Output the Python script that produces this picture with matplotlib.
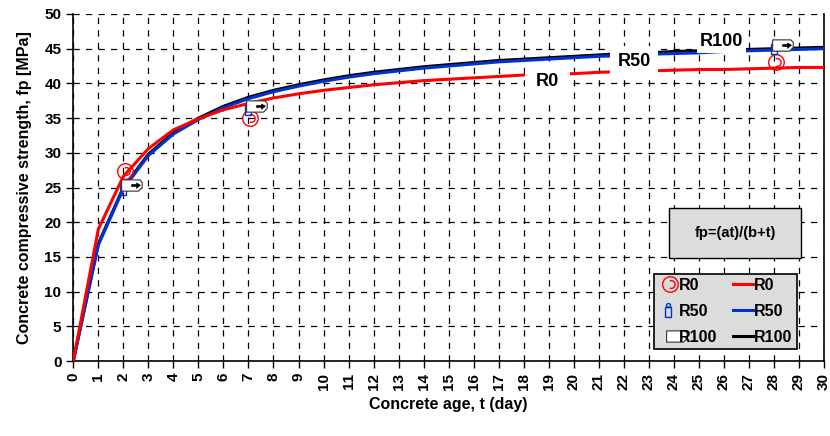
import numpy as np
import matplotlib.pyplot as plt
from matplotlib.path import Path
from matplotlib.lines import Line2D
from matplotlib.patches import Rectangle
from matplotlib.transforms import Affine2D

plt.rcParams['font.family'] = ['Liberation Sans Narrow', 'Liberation Sans', 'DejaVu Sans']
plt.rcParams['font.weight'] = 'bold'

# strength development curves, fp [MPa] at each day
days = list(range(0, 31))
r0 = [0, 19.0, 26.6, 30.6, 33.3, 34.9, 36.2, 37.1, 37.9, 38.5, 39.0, 39.4, 39.8,
      40.1, 40.4, 40.6, 40.8, 41.0, 41.2, 41.3, 41.4, 41.6, 41.7, 41.8, 41.9,
      42.0, 42.0, 42.1, 42.2, 42.3, 42.3]
r50 = [0, 16.7, 24.8, 29.6, 32.7, 34.8, 36.5, 37.8, 38.8, 39.6, 40.3, 40.9, 41.4,
       41.8, 42.2, 42.5, 42.8, 43.1, 43.3, 43.5, 43.7, 43.9, 44.0, 44.2, 44.3,
       44.4, 44.6, 44.7, 44.8, 44.9, 45.0]
r100 = [0, 16.9, 25.0, 29.8, 32.9, 35.0, 36.7, 38.0, 39.0, 39.8, 40.5, 41.1, 41.6,
        42.0, 42.4, 42.7, 43.0, 43.3, 43.5, 43.7, 43.9, 44.1, 44.3, 44.4, 44.6,
        44.7, 44.8, 44.9, 45.0, 45.1, 45.2]

# measured specimens
test_days = [2, 7, 28]
r0_test = [27.4, 35.0, 43.1]
r50_test = [25.0, 36.5, 45.2]
r100_test = [25.3, 36.7, 45.5]

names = ['R0', 'R50', 'R100']
colors = ['#FF0000', '#0033CC', '#000000']


# marker shapes
def ring_marker():
    outer = Path.unit_circle().transformed(Affine2D().translate(0.25, 0))
    inner = Path.arc(-110, 110).transformed(Affine2D().scale(0.5).translate(0.35, 0))
    return Path.make_compound_path(outer, inner)


def capsule_marker():
    body = Path([(-0.3, -0.7), (0.3, -0.7), (0.3, 0.3), (-0.3, 0.3), (-0.3, -0.7)],
                [Path.MOVETO, Path.LINETO, Path.LINETO, Path.LINETO, Path.CLOSEPOLY])
    top = Path.unit_circle().transformed(Affine2D().scale(0.2).translate(0, 0.5))
    return Path.make_compound_path(body, top)


def box_marker():
    verts = [(-0.3, -0.9), (2.4, -0.9), (3.0, -0.3), (3.0, 0.5), (2.6, 0.9),
             (-0.3, 0.9), (-0.3, -0.9)]
    codes = [Path.MOVETO] + [Path.LINETO] * 5 + [Path.CLOSEPOLY]
    return Path(verts, codes)


def flag_marker():
    verts = [(3.0, 0.0), (1.3, -0.15), (2.1, -0.15), (2.1, -0.45), (2.7, 0.05),
             (2.1, 0.4), (2.1, 0.15), (1.3, 0.15), (1.3, -0.15)]
    codes = [Path.MOVETO, Path.MOVETO] + [Path.LINETO] * 6 + [Path.CLOSEPOLY]
    return Path(verts, codes)


fig = plt.figure(figsize=(8.3, 4.36), dpi=100)
ax = fig.add_axes([0.0883, 0.172, 0.9045, 0.7959])

ax.plot(days, r100, color=colors[2], lw=2.2, zorder=3)
ax.plot(days, r50, color=colors[1], lw=2.2, zorder=3)
ax.plot(days, r0, color=colors[0], lw=2.2, zorder=3)

ax.plot(test_days, r0_test, ls='none', marker=ring_marker(), ms=14, mfc='none',
        mec=colors[0], mew=1.0, zorder=4)
ax.plot(test_days, r50_test, ls='none', marker=capsule_marker(), ms=10, mfc='none',
        mec=colors[1], mew=1.0, zorder=4)
ax.plot(test_days, r100_test, ls='none', marker=box_marker(), ms=27, mfc='white',
        mec='#333333', mew=0.8, zorder=4)
ax.plot(test_days, r100_test, ls='none', marker=flag_marker(), ms=27, mfc='black',
        mec='black', mew=0.5, zorder=4)

# curve labels
label_pos = [(18.95, 40.27, 0.6), (22.41, 43.16, 0.4), (25.89, 46.04, 0.15)]
for name, (lx, ly, pad) in zip(names, label_pos):
    ax.text(lx, ly, name, fontsize=13, fontweight='bold', ha='center', va='center',
            family='Liberation Sans', zorder=5,
            bbox=dict(boxstyle='square,pad=%s' % pad, fc='white', ec='none'))

ax.set_xlim(0, 30)
ax.set_ylim(0, 50)
ax.set_xticks(days, labels=[str(d) for d in days], rotation=90, fontsize=11,
              fontweight='bold', family='Liberation Sans')
ax.set_yticks(range(0, 51, 5), labels=[str(v) for v in range(0, 51, 5)], fontsize=11,
              fontweight='bold', family='Liberation Sans')
ax.tick_params(axis='both', direction='out', length=5, width=1)

ax.grid(True, color='black', ls=(0, (5, 5)), lw=0.9, zorder=1)
ax.set_axisbelow(True)
ax.spines['top'].set_visible(False)
for s in ['left', 'bottom', 'right']:
    ax.spines[s].set_linewidth(1.2)

ax.set_xlabel('Concrete age, t (day)', fontsize=11.5, fontweight='bold', labelpad=5)
ax.set_ylabel('Concrete compressive strength, fp [MPa]', fontsize=11.5,
              fontweight='bold', labelpad=9)

# formula box
ax.add_patch(Rectangle((0.794, 0.297), 0.175, 0.144, transform=ax.transAxes,
                       fc='#DCDCDC', ec='black', lw=1.0, zorder=5))
ax.text(0.8815, 0.369, 'fp=(at)/(b+t)', transform=ax.transAxes, fontsize=10.5,
        fontweight='bold', ha='center', va='center', zorder=6,
        family='Liberation Sans')

handles = [
    Line2D([], [], ls='none', marker=ring_marker(), ms=14, mfc='none', mec=colors[0], mew=1.0),
    Line2D([], [], ls='none', marker=capsule_marker(), ms=10, mfc='none', mec=colors[1], mew=1.0),
    Line2D([], [], ls='none', marker=box_marker(), ms=27, mfc='white', mec='#333333', mew=0.8),
    Line2D([], [], color=colors[0], lw=2.2),
    Line2D([], [], color=colors[1], lw=2.2),
    Line2D([], [], color=colors[2], lw=2.2),
]
leg = ax.legend(handles, names + names, ncol=2, loc='lower left',
                bbox_to_anchor=(0.774, 0.035), frameon=True,
                fancybox=False, framealpha=1, facecolor='#DCDCDC', edgecolor='black',
                handlelength=1.2, handletextpad=0.1, columnspacing=1.0,
                labelspacing=0.7, borderpad=0.25, borderaxespad=0,
                prop={'family': 'Liberation Sans', 'weight': 'bold', 'size': 11.5})
leg.get_frame().set_linewidth(1.2)
leg.set_zorder(6)

fig.savefig('out.png', dpi=100)
